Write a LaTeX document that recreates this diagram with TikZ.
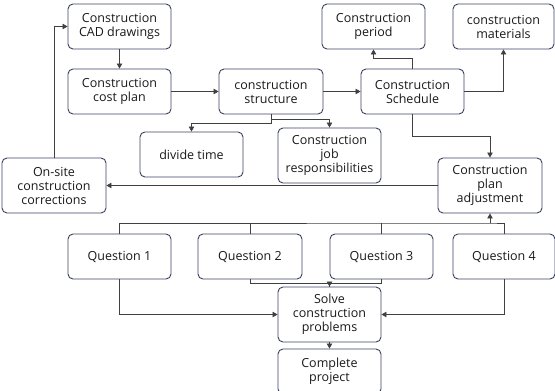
\documentclass[tikz,border=0pt]{standalone}
\usepackage{fontspec}
\setmainfont{Open Sans}
\usetikzlibrary{arrows.meta}
\definecolor{boxc}{HTML}{3B4060}
\definecolor{linec}{HTML}{404040}
\begin{document}
\begin{tikzpicture}[x=1pt,y=-1pt,
 box/.style={draw=boxc, line width=0.9pt, rounded corners=5pt, minimum width=103pt, minimum height=45pt, align=center, inner sep=1pt, font=\fontsize{12.5}{14}\selectfont, text=black!90},
 tall/.style={box, minimum height=55pt},
 conn/.style={draw=linec, line width=0.8pt},
 arr/.style={conn, -{Triangle[length=5pt,width=5.5pt]}}]
\useasboundingbox (0,0) rectangle (555,391);
\node[box] (cad) at (119.5,26.5) {Construction\\CAD drawings};
\node[box] (cost) at (119.5,91.5) {Construction\\cost plan};
\node[box, minimum width=104pt] (struct) at (271,91.5) {construction\\structure};
\node[box] (sched) at (412.5,91.5) {Construction\\Schedule};
\node[box] (period) at (373.5,26.5) {Construction\\period};
\node[box, minimum width=101pt] (mat) at (503.5,26.5) {construction\\materials};
\node[box] (divide) at (191.5,154.5) {divide time};
\node[tall] (job) at (329.5,155.5) {Construction\\job\\responsibilities};
\node[tall, minimum width=104pt] (adj) at (490,185.5) {Construction\\plan\\adjustment};
\node[tall, minimum width=104pt] (onsite) at (54,185.5) {On-site\\construction\\corrections};
\node[box] (q1) at (119.5,256.5) {Question 1};
\node[box, minimum width=104pt] (q2) at (250,256.5) {Question 2};
\node[box] (q3) at (381.5,256.5) {Question 3};
\node[box, minimum width=102pt] (q4) at (504,256.5) {Question 4};
\node[tall] (solve) at (329.5,314.5) {Solve\\construction\\problems};
\node[box] (complete) at (329.5,371.5) {Complete\\project};
\coordinate (qbus) at (490,223);
\draw[arr] (cad) -- (cost);
\draw[arr] (cost) -- (struct);
\draw[arr] (struct) -- (sched);
\draw[arr] (struct.south) -- ++(0,8.5) -| (divide.north);
\draw[arr] (struct.south) -- ++(0,5) -| (job.north);
\draw[arr] (sched.north) -- ++(0,-10) -| (period.south);
\draw[arr] (sched.east) -| (mat.south);
\draw[arr] (sched.south) -- ++(0,22) -| (adj.north);
\draw[arr] (adj.west) -- (onsite.east);
\draw[arr] (onsite.north) |- (cad.west);
\draw[conn] (q1.north) |- (qbus) -| (q4.north);
\draw[conn] (q2.north) -- (q2.north |- qbus);
\draw[conn] (q3.north) -- (q3.north |- qbus);
\draw[arr] (qbus) -- (adj.south);
\draw[arr] (q2.south) -- ++(0,3.5) -| (solve.north);
\draw[conn] (q3.south) -- ++(0,3.5) -| (solve.north);
\draw[arr] (q1.south) |- (solve.west);
\draw[arr] (q4.south) |- (solve.east);
\draw[arr] (solve) -- (complete);
\end{tikzpicture}
\end{document}
